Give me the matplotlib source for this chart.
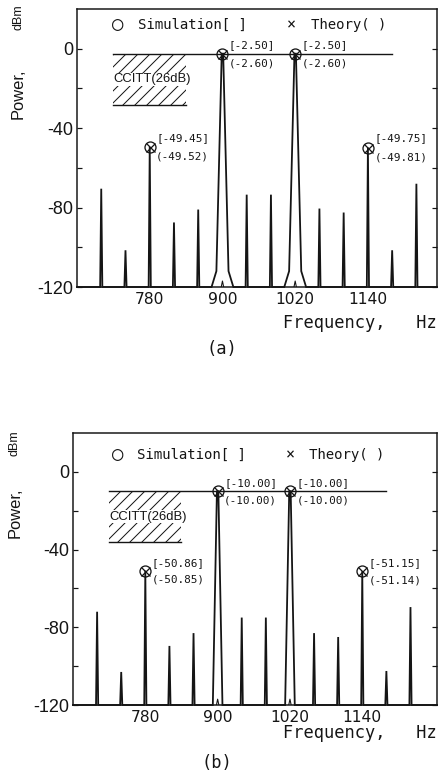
import matplotlib
matplotlib.use('Agg')
import matplotlib.pyplot as plt
from matplotlib import font_manager as fm
from matplotlib.patches import Rectangle

plt.rcParams['axes.unicode_minus'] = False

# ---------------- data ----------------
freqs = [700, 740, 780, 820, 860, 900, 940, 980, 1020, 1060, 1100, 1140, 1180, 1220]
levels_a = [-70.5, -101.5, -49.45, -87.5, -81.0, -2.5, -73.5, -73.5, -2.5, -80.5, -82.5, -49.75, -101.5, -68.0]
levels_b = [-72.0, -103.0, -50.86, -89.6, -83.0, -10.0, -75.0, -75.0, -10.0, -83.0, -85.0, -51.15, -102.5, -69.6]
tone_freqs = [900, 1020]
marked_freqs = [780, 900, 1020, 1140]
sim_a = [-49.45, -2.50, -2.50, -49.75]
theory_a = [-49.52, -2.60, -2.60, -49.81]
sim_b = [-50.86, -10.00, -10.00, -51.15]
theory_b = [-50.85, -10.00, -10.00, -51.14]
ccitt_ref_a = -2.5
ccitt_ref_b = -10.0
ccitt_margin = 26
ccitt_span = (720, 1180)
ccitt_box = (720, 840)
yticks = [0, -40, -80, -120]
yminor = [-20, -60, -100]
xticks = [780, 900, 1020, 1140]
floor_db = -120
# tone skirt shapes (offset Hz, level: None = peak)
skirt_a = [(-18, -120), (-10, -112), (-1.2, None), (1.2, None), (10, -112), (18, -120)]
skirt_b = [(-8, -120), (-1.2, None), (1.2, None), (8, -120)]
bump = [(-2, -120), (0, -117), (2, -120)]

W, H = 438, 774
fig = plt.figure(figsize=(W / 72, H / 72), dpi=72)


def fx(x):
    return x / W


def fy(y):
    return 1 - y / H


def have(fam):
    try:
        fm.findfont(fm.FontProperties(family=fam), fallback_to_default=False)
        return True
    except Exception:
        return False


NARROW = have('Liberation Sans Narrow')
MONO = ['DejaVu Sans Mono', 'DejaVu Sans']
COL = '#151515'


def panel(rect, xlim, levels, skirt, sims, theos, ref, legend_x, legend_y, ann_off):
    ax = fig.add_axes(rect)
    xs, ys = [xlim[0]], [floor_db]
    for f, lv in zip(freqs, levels):
        if f in tone_freqs:
            for d, v in skirt:
                xs.append(f + d)
                ys.append(lv if v is None else v)
        else:
            xs += [f - 1.8, f, f + 1.8]
            ys += [floor_db, lv, floor_db]
    xs.append(xlim[1])
    ys.append(floor_db)
    ax.plot(xs, ys, color=COL, lw=1.8, solid_joinstyle='miter', clip_on=False)
    for f in tone_freqs:
        ax.plot([f + d for d, _ in bump], [v for _, v in bump], color=COL, lw=1.1)
    ax.plot(marked_freqs, sims, 'o', mfc='none', mec=COL, ms=11, mew=1.3)
    ax.plot(marked_freqs, theos, 'x', color=COL, ms=9, mew=1.3)
    for f, s, t in zip(marked_freqs, sims, theos):
        ax.annotate(f'[{s:.2f}]', xy=(f, s), xytext=(ann_off[0], ann_off[1]),
                    textcoords='offset points', ha='left', va='center',
                    fontsize=11, family=MONO, color=COL)
        ax.annotate(f'({t:.2f})', xy=(f, s), xytext=(ann_off[0], -ann_off[2]),
                    textcoords='offset points', ha='left', va='center',
                    fontsize=11, family=MONO, color=COL)
    # CCITT mask
    ax.plot(list(ccitt_span), [ref, ref], color=COL, lw=1.4)
    low = ref - ccitt_margin
    ax.add_patch(Rectangle((ccitt_box[0], low), ccitt_box[1] - ccitt_box[0], ccitt_margin,
                           fill=False, hatch='//', edgecolor=COL, lw=0))
    ax.plot(list(ccitt_box), [low, low], color=COL, lw=1.4)
    ax.text(ccitt_box[0], (ref + low) / 2, 'CCITT(26dB)', ha='left', va='center',
            fontsize=13 if not NARROW else 15,
            family='Liberation Sans Narrow' if NARROW else 'Liberation Sans', color=COL,
            bbox=dict(facecolor='white', edgecolor='none', pad=0.5))
    # legend-like text
    ax.text(legend_x[0], legend_y, '○', ha='left', va='center', fontsize=19, family=MONO, color=COL)
    ax.text(legend_x[1], legend_y, 'Simulation[ ]', ha='left', va='center', fontsize=14, family=MONO, color=COL)
    ax.text(legend_x[2], legend_y, '×', ha='left', va='center', fontsize=15, family=MONO, color=COL)
    ax.text(legend_x[3], legend_y, 'Theory( )', ha='left', va='center', fontsize=14, family=MONO, color=COL)

    ax.set_xlim(*xlim)
    ax.set_ylim(floor_db, 20)
    ax.set_yticks(yticks)
    ax.set_yticks(yminor, minor=True)
    ax.set_xticks(xticks)
    ax.set_yticklabels([str(v) for v in yticks], fontsize=18, family='Liberation Sans')
    ax.set_xticklabels([str(v) for v in xticks], fontsize=15.5, family='DejaVu Sans')
    ax.tick_params(axis='y', which='both', direction='in', left=True, right=True,
                   length=5, width=1.2, pad=4, colors=COL)
    ax.tick_params(axis='x', length=0, pad=5, colors=COL)
    for sp in ax.spines.values():
        sp.set_linewidth(1.5)
        sp.set_color(COL)
    return ax


# top panel: axes 77..437 px wide, 9..287 px tall
panel([fx(77), fy(287), fx(437) - fx(77), fy(9) - fy(287)], (660, 1254), levels_a, skirt_a,
      sim_a, theory_a, ccitt_ref_a, (717, 760, 1006, 1046), 12, (6.5, 9, 10))
# bottom panel: axes 73..437 px wide, 433..705 px tall
panel([fx(73), fy(705), fx(437) - fx(73), fy(433) - fy(705)], (660, 1264), levels_b, skirt_b,
      sim_b, theory_b, ccitt_ref_b, (724, 767, 1014, 1052), 8.8, (6.5, 8, 9))

ylab_fam = 'Liberation Sans Narrow' if NARROW else 'Liberation Sans'
ylab_size = 19 if NARROW else 16.5
for xc, yp, yd in [(18, 93.5, 17), (15, 513, 443)]:
    fig.text(fx(xc), fy(yp), 'Power,', rotation=90, ha='center', va='center',
             fontsize=ylab_size, family=ylab_fam, color=COL)
    fig.text(fx(xc), fy(yd), 'dBm', rotation=90, ha='center', va='center',
             fontsize=12.5, family=ylab_fam, color=COL)

for yc in [323, 733]:
    fig.text(fx(437), fy(yc), 'Frequency,   Hz', ha='right', va='center',
             fontsize=17, family=MONO, color=COL)

fig.text(fx(222), fy(349), '(a)', ha='center', va='center', fontsize=17, family=MONO, color=COL)
fig.text(fx(217), fy(763), '(b)', ha='center', va='center', fontsize=17, family=MONO, color=COL)

fig.savefig('out.png', dpi=72)
